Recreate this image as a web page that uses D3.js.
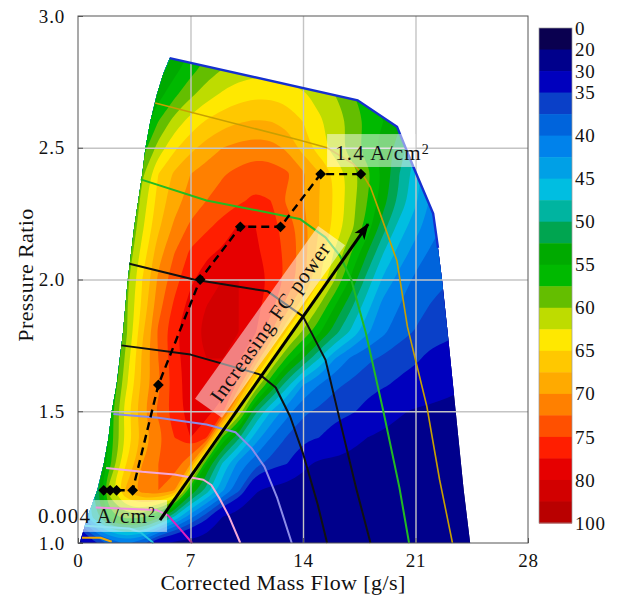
<!DOCTYPE html>
<html>
<head>
<meta charset="utf-8">
<script src="https://cdn.jsdelivr.net/npm/d3@7"></script>
<style>
  body { margin: 0; background: #fff; }
  text { font-family: "Liberation Serif", "DejaVu Serif", serif; fill: #111; }
</style>
</head>
<body>
<svg id="chart" width="617" height="596"></svg>
<script>
// grid of the efficiency map (mass flow g/s, pressure ratio)
const massFlow = [0,1,2,3,4,5,6,7,8,9,10,11,12,13,14,15,16,17,18,19,20,21,22,23,24,25];
const pressure = [1.0,1.1,1.2,1.3,1.4,1.5,1.6,1.7,1.8,1.9,2.0,2.1,2.2,2.3,2.4,2.5,2.6,2.7,2.8,2.9];
// efficiency [%], one row per pressure ratio
const effRows = [
  [28,34,38,40,38,31,29,28,27.5,27,27,26.5,26,26,25.5,25,25,24.5,24,24,23.5,23,23,22.5,22,22],          // 1.0
  [40,49,56,59,58,54,47.5,41,36,30,28,27.5,27,27,26.5,26,26,25.5,25,25,24.5,24,24,23.5,23,23],          // 1.1
  [40,50,62,68,71.5,72.5,70,55,49,43,38,30.5,28.8,28,28,27.5,27,27,26.5,26,26,25.5,25,25,24.5,24],      // 1.2
  [38,47,57,65,70,72.5,74,70,55,47,41.5,38.5,36.5,35,31,29,28.8,28.5,28,27.5,27,27,26.5,26,25.5,25],    // 1.3
  [36,46,56,63,68,71.5,75,77.5,75,57,50.5,44,40,37.3,36,35,33.5,31.5,30,29,28.5,28,27.5,27,26.5,26],    // 1.4
  [34,45,56,64,69.5,73,76.5,78.5,78.5,76,62.5,51,45,41,38,37,36,35.5,34,32.5,30.5,29.5,29,28.5,28,27.5],// 1.5
  [33,43,54,62,68,72,76,79,79.5,79,74,62.5,55,48.5,42.5,40,38,37,36,35.3,34.5,33.5,32.5,31.5,30.5,30],  // 1.6
  [32,42,52,61,68,72.5,76.5,79,80,80,78,73,63.5,57,52.5,47.5,42.5,39.5,38,37,36,35.5,34,33,32,31],      // 1.7
  [30,40,50,59.5,67,73,77,79.5,80.5,81,80,78,73,64.5,59.5,55.5,51,47,43,40.5,38.5,37.3,36.5,36,35,34],  // 1.8
  [32,41,50,59.5,65.5,71.5,75.5,78.5,80,80.5,80,78.5,76,71.5,65.5,60,55,50.5,46,41.5,40,38.5,37.3,36.5,35.5,34.5], // 1.9
  [32,41,50,59,65,70.5,74,77,79,80,80,79,77,74.5,71,65.5,60,54.5,49,44.5,41.5,39.5,38.5,37.7,36.5,35.5],// 2.0
  [33.5,42,50,57.5,63.5,69,72.5,75.5,77,78,78.6,78,76.5,74.3,71.2,66.5,62,57.5,52.5,47.5,44,41.3,39.5,38.2,37,36], // 2.1
  [35,43,50,56,62,67,70.5,73,74.5,76,77.8,77.6,76,74,71.2,67.5,64.3,60.8,56.5,51,46.5,43.5,41,39.5,38,37], // 2.2
  [36,44,50,55,61,66,69,71,72.5,73.5,74.5,75.5,75,72,70,67.5,64.5,61,57.5,53.5,49.5,45.5,42,40,38.5,37.5], // 2.3
  [38,44,49.5,54.5,59.5,65,68,70,71.3,72.3,73.2,74,73.8,73,70.5,67.8,64.5,61.5,58.3,54.5,50,46,43,41,39.5,38.5], // 2.4
  [39,44,49,53,56,61,64.5,66.8,68.5,70,70.8,71.2,71,69.5,66.5,63.8,61.2,58.8,56.2,53.8,51.5,47.5,44.5,42.5,41,40], // 2.5
  [38,42,46,50,53,57.5,61,63.5,65.3,66.5,67.3,67.7,67.5,66.7,65,63,61.3,59.5,57,55,53,49.5,47,45,43.5,42], // 2.6
  [36,40,44,47,50.5,54,57,59.5,61.5,63,64,64.5,64.5,64,63,61.5,60,58,55.5,53,50.5,48,46,44,42.5,41],      // 2.7
  [34,38,41.5,45,48,51,54,56.5,58.5,60,61,61.5,61.5,61,60,58.5,57,55,53,50.5,48,46,44,42.5,41,40],        // 2.8
  [32,36,39.5,43,46,49,52,54.5,56.5,58,59,59.5,59.5,59,58,56.5,55,53,51,49,46.5,44.5,42.5,41,39.5,38.5]  // 2.9
];

// colour levels of the map and the colour bar
const levels = [0,20,30,35,37.5,40,42.5,45,47.5,50,52.5,55,57.5,60,62.5,65,67.5,70,72.5,75,77.5,80,82.5];
const cbLabels = [0,20,30,35,40,45,50,55,60,65,70,75,80,100];
const bandColors = ["#0a0050","#00008c","#0000be","#0a40c8","#0064dc","#0082eb","#00a0e6","#00bee1",
  "#00b4a0","#00a550","#00aa00","#00b900","#64be00","#bedc00","#ffe800","#ffc800","#ffaa00",
  "#ff8000","#ff5000","#ff1e00","#e60000","#d20000","#b90000"];

// map limits
const surgeLine = [[0.1,1.0],[0.6,1.1],[1.2,1.2],[1.6,1.3],[1.9,1.4],[2.1,1.5],[2.4,1.6],[2.6,1.7],[2.8,1.8],
  [2.95,1.9],[3.1,2.0],[3.3,2.1],[3.5,2.2],[3.75,2.3],[4.0,2.4],[4.2,2.5],[4.5,2.6],[4.9,2.7],[5.3,2.78],[5.7,2.84]];
const outerLine = [[5.7,2.84],[17.4,2.68],[19.85,2.58],[20.85,2.43],[22.1,2.25],[22.4,2.12],[22.65,2.0],
  [23.0,1.8],[23.5,1.5],[24.0,1.2],[24.4,1.0]];

// speed lines, lowest to highest
const speed1 = [[0.25,1.02],[1.4,1.02],[2.1,1.005]];
const speed2 = [[0.4,1.065],[3.2,1.055],[3.9,1.04],[4.7,1.0]];
const speed3 = [[1.1,1.135],[4.9,1.125],[5.6,1.105],[6.4,1.05],[7.1,1.0]];
const speed4 = [[1.75,1.285],[4,1.27],[6,1.26],[7.8,1.24],[8.3,1.22],[8.8,1.17],[9.4,1.1],[10.1,1.0]];
const speed5 = [[2.2,1.49],[5,1.475],[8,1.45],[9.8,1.42],[10.8,1.36],[11.6,1.29],[12.4,1.17],[13.3,1.0]];
const speed6 = [[2.7,1.75],[7,1.715],[11.3,1.64],[12.3,1.59],[13.2,1.48],[14,1.34],[14.9,1.15],[15.5,1.0]];
const speed7 = [[3.2,2.06],[7.2,2.0],[11.8,1.955],[14,1.86],[15.4,1.695],[16.2,1.49],[17.3,1.21],[18.2,1.0]];
const speed8 = [[3.9,2.38],[8,2.3],[13.8,2.23],[15.4,2.16],[16.3,2.09],[17,2.0],[17.4,1.91],[17.9,1.8],[19,1.5],[20,1.21],[20.6,1.0]];
const speed9 = [[4.8,2.67],[13.7,2.53],[15.5,2.5],[17.1,2.44],[17.7,2.4],[18.2,2.35],[18.8,2.25],[19.85,2.07],[20.5,1.82],[21.7,1.52],[22.5,1.24],[23.3,1.0]];

// operating line of the fuel cell
const opFlow = [1.6,2.0,2.4,3.4,5.0,7.6,10.1,12.6,15.1,17.6];
const opPR   = [1.2,1.2,1.2,1.2,1.6,2.0,2.2,2.2,2.4,2.4];

const arrowFrom = [5.1,1.087];
const arrowTo = [18.05,2.21];

const xTicks = [0,7,14,21,28];
const yTicks = [1.0,1.5,2.0,2.5,3.0];

const svg = d3.select("#chart");
const x = d3.scaleLinear().domain([0,28]).range([78,528]);
const y = d3.scaleLinear().domain([1,3]).range([543,16]);

// clip to the map limits
const edgeLine = d3.line().x(d => x(d[0])).y(d => y(d[1]));
svg.append("defs").append("clipPath").attr("id","mapclip")
   .append("path").attr("d", edgeLine(surgeLine.concat(outerLine.slice(1))) + "Z");

// filled contours, rings smoothed with a closed basis curve
const gx = d3.scaleLinear().domain([0.5, massFlow.length - 0.5]).range([massFlow[0], massFlow[massFlow.length-1]]);
const gy = d3.scaleLinear().domain([0.5, pressure.length - 0.5]).range([pressure[0], pressure[pressure.length-1]]);
const ringLine = d3.line()
   .x(p => x(gx(p[0]))).y(p => y(gy(p[1])))
   .curve(d3.curveBasisClosed);
const bands = d3.contours().size([massFlow.length, pressure.length]).thresholds(levels)(effRows.flat());

function bandPath(mp) {
  let d = "";
  mp.coordinates.forEach(poly => poly.forEach(ring => {
    d += ringLine(ring.slice(0, -1));
  }));
  return d;
}

svg.append("g").attr("clip-path","url(#mapclip)")
   .selectAll("path").data(bands).join("path")
   .attr("d", bandPath)
   .attr("fill-rule","evenodd")
   .attr("fill", (d,i) => bandColors[i]);

// grid
svg.append("g").attr("transform","translate(0,543)")
   .call(d3.axisBottom(x).tickValues([7,14,21]).tickSize(-(543-16)).tickFormat(""))
   .call(g => g.select(".domain").remove())
   .selectAll("line").attr("stroke","#c4c4c4").attr("stroke-width",1.4);
svg.append("g").attr("transform","translate(78,0)")
   .call(d3.axisLeft(y).tickValues([1.5,2.0,2.5]).tickSize(-(528-78)).tickFormat(""))
   .call(g => g.select(".domain").remove())
   .selectAll("line").attr("stroke","#c4c4c4").attr("stroke-width",1.4);

// top limit of the map
svg.append("path").attr("d", edgeLine(outerLine.filter(p => p[1] >= 2.12)))
   .attr("fill","none").attr("stroke","#1530d0").attr("stroke-width",2.4);

// speed lines
const speedLines = [speed1,speed2,speed3,speed4,speed5,speed6,speed7,speed8,speed9];
const speedColors = ["#f0a800","#20c4e4","#e020c0","#f4a8d8","#8c8ce8","#111","#111","#22bb22","#c8a000"];
const speedWidths = [2,2,2,2,2,2,2,2,1.6];
svg.append("g").selectAll("path").data(speedLines).join("path")
   .attr("d", edgeLine)
   .attr("fill","none")
   .attr("stroke", (d,i) => speedColors[i])
   .attr("stroke-width", (d,i) => speedWidths[i])
   .attr("stroke-linejoin","round");

// operating line
const opPts = opFlow.map((m,i) => [m, opPR[i]]);
svg.append("path").attr("d", edgeLine(opPts))
   .attr("fill","none").attr("stroke","#000").attr("stroke-width",2.4)
   .attr("stroke-dasharray","8,5");
svg.append("g").selectAll("path").data(opPts).join("path")
   .attr("d", d3.symbol(d3.symbolSquare, 58))
   .attr("transform", d => `translate(${x(d[0])},${y(d[1])}) rotate(45)`)
   .attr("fill","#000");

// labels with translucent boxes
const boxes = svg.append("g");
boxes.append("rect")
   .attr("x", x(0)).attr("y", y(1.163))
   .attr("width", x(5.54) - x(0)).attr("height", y(1.042) - y(1.163))
   .attr("fill","#fff").attr("fill-opacity",0.5);
boxes.append("rect")
   .attr("x", x(15.5)).attr("y", y(2.552))
   .attr("width", x(21.0) - x(15.5)).attr("height", y(2.427) - y(2.552))
   .attr("fill","#fff").attr("fill-opacity",0.5);

// arrow
const defs = svg.select("defs");
defs.append("marker").attr("id","head").attr("markerUnits","userSpaceOnUse")
   .attr("viewBox","0 -7 16 14").attr("markerWidth",16).attr("markerHeight",14)
   .attr("refX",15).attr("refY",0).attr("orient","auto")
   .append("path").attr("d","M0,-6L16,0L0,6L4,0Z").attr("fill","#000");

const lab = svg.append("g")
   .attr("transform", `translate(${x(11.95)},${y(1.839)}) rotate(-54.5)`);
lab.append("rect").attr("x",-106).attr("y",-16.5).attr("width",212).attr("height",33)
   .attr("fill","#fff").attr("fill-opacity",0.5);
lab.append("text").attr("text-anchor","middle").attr("dy","0.35em")
   .style("font-size","21px").style("letter-spacing","0.8px")
   .text("Increasing FC power");

svg.append("line")
   .attr("x1", x(arrowFrom[0])).attr("y1", y(arrowFrom[1]))
   .attr("x2", x(arrowTo[0])).attr("y2", y(arrowTo[1]))
   .attr("stroke","#000").attr("stroke-width",3)
   .attr("marker-end","url(#head)");

function addCurrentLabel(m, pr, value) {
  const t = svg.append("text").attr("x", x(m)).attr("y", y(pr))
     .style("font-size","21px").style("letter-spacing","1.2px");
  t.append("tspan").text(value + " A/cm");
  t.append("tspan").attr("dy","-0.45em").style("font-size","14px").text("2");
}
addCurrentLabel(-2.49, 1.076, "0.004");
addCurrentLabel(16.0, 2.4535, "1.4");

// frame and axes
svg.append("rect").attr("x",78).attr("y",16).attr("width",450).attr("height",527)
   .attr("fill","none").attr("stroke","#555").attr("stroke-width",1);

const xa = svg.append("g").attr("transform","translate(0,543)")
   .call(d3.axisBottom(x).tickValues(xTicks).tickSizeInner(-5).tickSizeOuter(0).tickPadding(10.5).tickFormat(d3.format("d")));
const ya = svg.append("g").attr("transform","translate(78,0)")
   .call(d3.axisLeft(y).tickValues(yTicks).tickSizeInner(-5).tickSizeOuter(0).tickPadding(13).tickFormat(d3.format(".1f")));
[xa, ya].forEach(a => {
  a.select(".domain").remove();
  a.selectAll("line").attr("stroke","#555");
  a.selectAll("text").attr("font-family", null).attr("font-size", null)
   .style("font-size","19px").style("letter-spacing","0.8px").attr("fill","#111");
});

svg.append("text").attr("x",283).attr("y",590).attr("text-anchor","middle")
   .style("font-size","22px").style("letter-spacing","0.4px")
   .text("Corrected Mass Flow [g/s]");
svg.append("text").attr("transform","translate(25,275) rotate(-90)")
   .attr("text-anchor","middle").attr("dy","0.35em")
   .style("font-size","22px").style("letter-spacing","0.4px")
   .text("Pressure Ratio");

// colour bar
const cbEdges = levels.concat([100]);
const cb = d3.scaleLinear().domain([0, levels.length]).range([28, 523]);
const cbar = svg.append("g");
cbar.selectAll("rect").data(bandColors).join("rect")
   .attr("x",539).attr("width",33)
   .attr("y", (d,i) => cb(i))
   .attr("height", (d,i) => cb(i+1) - cb(i) + 0.5)
   .attr("fill", d => d);
cbar.append("rect").attr("x",539).attr("y",cb(0)).attr("width",33).attr("height",cb(levels.length)-cb(0))
   .attr("fill","none").attr("stroke","#999").attr("stroke-width",0.7);
const cbAxis = svg.append("g").attr("transform","translate(572,0)")
   .call(d3.axisRight(cb).tickValues(cbLabels.map(v => cbEdges.indexOf(v)))
          .tickFormat(i => cbEdges[i]).tickSize(0).tickPadding(3));
cbAxis.select(".domain").remove();
cbAxis.selectAll("text").attr("font-family", null).attr("font-size", null)
   .style("font-size","19px").style("letter-spacing","0.8px").attr("fill","#111");
</script>
</body>
</html>
